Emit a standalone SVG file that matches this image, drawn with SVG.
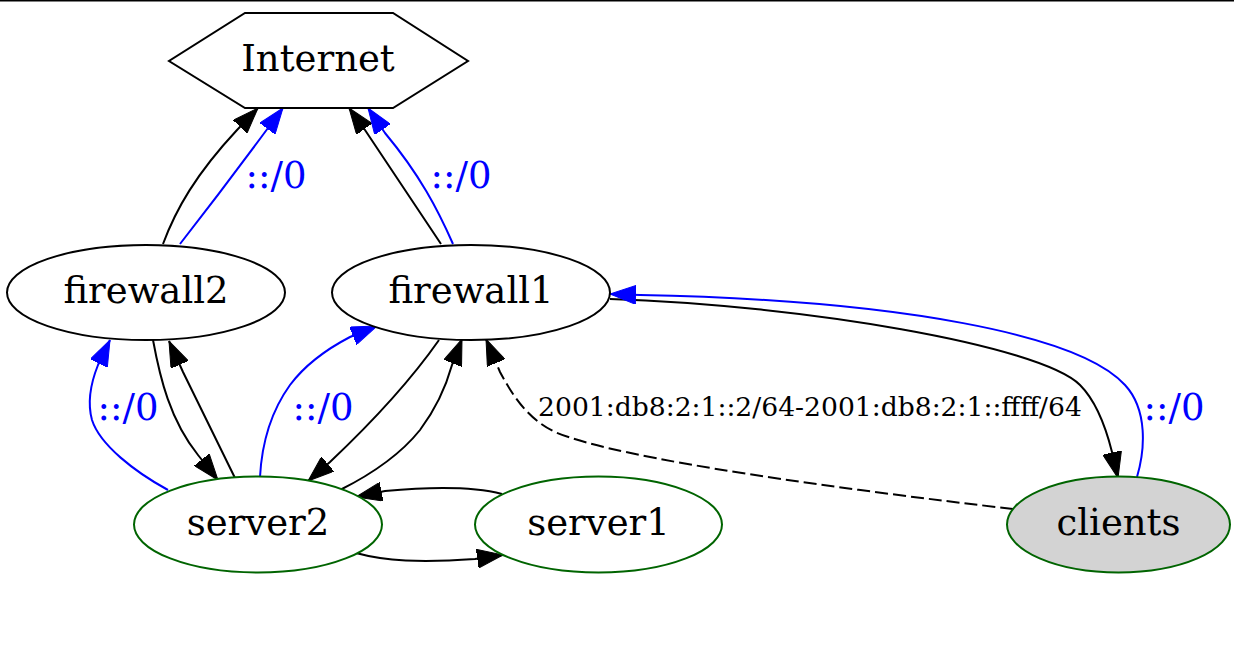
<svg xmlns="http://www.w3.org/2000/svg" width="1234" height="645" viewBox="0 0 1234 645">
<style>
text{font-family:"DejaVu Serif","Liberation Serif",serif;text-anchor:middle}
.n{font-size:37px;fill:#000}
.bl{font-size:37px;fill:#0000ff}
.sm{font-size:26.6px;fill:#000}
.e{fill:none;stroke:#000;stroke-width:2}
.b{fill:none;stroke:#0000ff;stroke-width:2}
.d{stroke-dasharray:13,5}
.shape{fill:#fff;stroke:#000;stroke-width:2}
.g{fill:#fff;stroke:#006400;stroke-width:2}
</style>
<defs>
<marker id="ak" viewBox="0 0 26 19" refX="26" refY="9.5" markerWidth="26" markerHeight="19" markerUnits="userSpaceOnUse" orient="auto"><path d="M0,0 L26,9.5 L0,19 z" fill="#000" stroke="#000" stroke-width="1"/></marker>
<marker id="ab" viewBox="0 0 26 19" refX="26" refY="9.5" markerWidth="26" markerHeight="19" markerUnits="userSpaceOnUse" orient="auto"><path d="M0,0 L26,9.5 L0,19 z" fill="#0000ff" stroke="#0000ff" stroke-width="1"/></marker>
</defs>
<rect x="0" y="0" width="1234" height="645" fill="#fff"/>
<rect x="0" y="0" width="1234" height="1.5" fill="#000"/>
<g id="edges">
<path class="e" d="M163,244 C176,209 196,174 237,130 L258,108" marker-end="url(#ak)"/>
<path class="b" d="M180,244 C205,212 240,166 268,128 L283,108" marker-end="url(#ab)"/>
<text class="bl" x="276" y="188">::/0</text>
<path class="e" d="M441,244 L365,130 L349,108" marker-end="url(#ak)"/>
<path class="b" d="M453,244 C438,210 420,175 385,133 L368,108" marker-end="url(#ab)"/>
<text class="bl" x="461" y="188">::/0</text>
<path class="e" d="M153,340 C160,378 170,420 198,455 L218,480" marker-end="url(#ak)"/>
<path class="e" d="M235,478 L183,372 L169,341" marker-end="url(#ak)"/>
<path class="b" d="M168,490 C135,472 100,445 92,420 C87,402 90,385 98,365 L110,340" marker-end="url(#ab)"/>
<text class="bl" x="128" y="420">::/0</text>
<path class="b" d="M260,477 C262,440 272,410 290,385 C305,365 325,350 350,337 L377,326" marker-end="url(#ab)"/>
<text class="bl" x="323" y="420">::/0</text>
<path class="e" d="M439,340 C418,370 385,410 330,462 L308,481" marker-end="url(#ak)"/>
<path class="e" d="M340,490 C370,475 400,455 420,430 C435,410 445,390 452,365 L462,339" marker-end="url(#ak)"/>
<path class="e" d="M610,299 C800,305 1040,345 1080,385 C1097,402 1106,428 1112,452 L1118,478" marker-end="url(#ak)"/>
<path class="b" d="M1137,477 C1145,450 1148,410 1125,385 C1080,335 900,300 640,295 L610,294" marker-end="url(#ab)"/>
<text class="bl" x="1174" y="420">::/0</text>
<path class="e d" d="M1013,509 C850,490 620,460 555,432 C530,420 515,400 500,372 L486,339" marker-end="url(#ak)"/>
<text class="sm" x="810" y="416">2001:db8:2:1::2/64-2001:db8:2:1::ffff/64</text>
<path class="e" d="M502,494 C475,487 440,486 385,491 L356,497" marker-end="url(#ak)"/>
<path class="e" d="M356,553 C385,561 420,563 475,559 L503,555" marker-end="url(#ak)"/>
</g>
<g id="Internet">
<polygon class="shape" points="245,13 393,13 468,61 393,108 245,108 169,61"/>
<text class="n" x="318" y="71">Internet</text>
</g>
<g id="firewall2">
<ellipse class="shape" cx="146" cy="292.5" rx="139" ry="47.5"/>
<text class="n" x="146" y="303">firewall2</text>
</g>
<g id="firewall1">
<ellipse class="shape" cx="471" cy="292.5" rx="139" ry="47.5"/>
<text class="n" x="471" y="303">firewall1</text>
</g>
<g id="server2">
<ellipse class="g" cx="258" cy="524.5" rx="124" ry="48"/>
<text class="n" x="258" y="535">server2</text>
</g>
<g id="server1">
<ellipse class="g" cx="598.5" cy="524.5" rx="123.5" ry="48"/>
<text class="n" x="598.5" y="535">server1</text>
</g>
<g id="clients">
<ellipse cx="1118.5" cy="524.5" rx="111.5" ry="48" fill="#d3d3d3" stroke="#006400" stroke-width="2"/>
<text class="n" x="1118.5" y="535">clients</text>
</g>
</svg>
